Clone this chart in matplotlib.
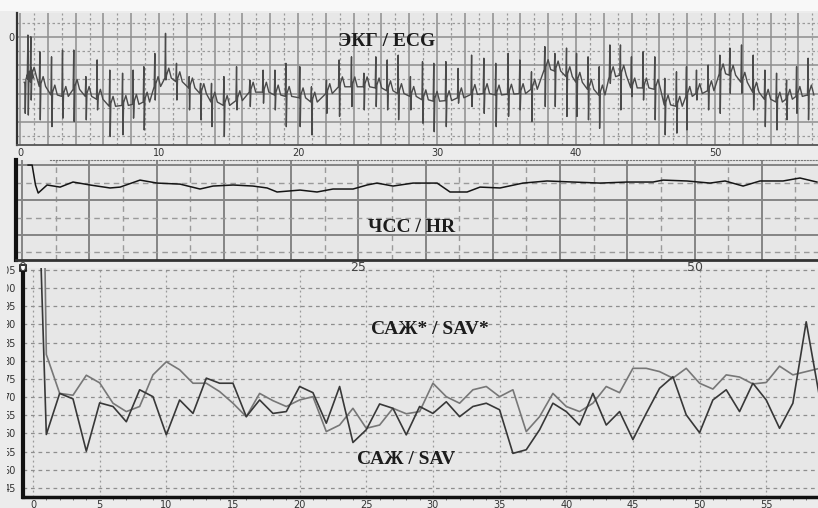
import numpy as np
import matplotlib
matplotlib.use('Agg')
import matplotlib.pyplot as plt
from matplotlib.ticker import MultipleLocator, FixedLocator, FuncFormatter

# --- ECG: beat times, local baseline, R top, S bottom (arbitrary units, 0 = top label)
ecg_t = [0.36, 0.58, 0.79, 1.44, 2.28, 3.07, 3.88, 4.75, 5.56, 6.47, 7.39, 8.15,
         8.92, 9.71, 10.48, 11.27, 12.18, 13.0, 13.79, 14.68, 15.59, 16.55, 17.5,
         18.35, 19.14, 20.14, 20.98, 22.06, 22.97, 23.86, 24.75, 25.61, 26.43,
         27.22, 28.1, 28.97, 29.78, 30.65, 31.53, 32.5, 33.38, 34.24, 35.13, 35.97,
         36.81, 37.77, 38.49, 39.33, 40.05, 40.88, 41.68, 42.45, 43.21, 44.0,
         44.84, 45.68, 46.4, 47.24, 47.96, 48.68, 49.52, 50.36, 51.08, 51.92,
         52.76, 53.6, 54.44, 55.16, 55.88, 56.71]
ecg_base = [-1.6, -1.45, -1.42, -1.75, -2.05, -2.1, -1.85, -2.1, -2.2, -2.45, -2.42,
            -2.38, -2.3, -1.75, -1.45, -1.58, -1.8, -2.0, -2.3, -2.42, -2.25, -1.95,
            -1.95, -2.05, -2.1, -2.15, -2.3, -2.0, -1.76, -1.76, -1.76, -1.8, -1.9,
            -2.0, -2.1, -2.22, -2.27, -2.25, -2.15, -2.03, -2.0, -2.05, -2.02, -2.0,
            -1.85, -1.15, -1.2, -1.4, -1.6, -1.85, -2.05, -1.4, -1.35, -1.8, -1.8,
            -1.85, -2.4, -2.45, -2.1, -2.0, -1.9, -1.3, -1.35, -1.6, -1.95, -2.2,
            -2.3, -2.2, -2.1, -2.05]
ecg_top = [-1.64, 0.07, 0.01, -0.52, -0.70, -0.46, -0.46, -1.40, -0.81, -1.17, -1.28,
           -1.17, -1.05, -0.58, 0.13, -0.93, -1.40, -1.64, -1.64, -1.40, -1.05, -1.52,
           -1.17, -1.17, -0.93, -1.05, -1.76, -1.52, -0.81, -0.70, -1.28, -0.70, -0.81,
           -0.64, -1.40, -0.87, -0.93, -0.87, -1.11, -0.64, -0.75, -0.93, -0.58, -0.81,
           -1.23, -0.34, -0.58, -0.39, -0.58, -0.70, -1.05, -0.28, -0.28, -0.70, -0.52,
           -0.70, -1.46, -1.23, -1.05, -1.17, -0.99, -0.64, -0.39, -0.28, -0.64, -1.17,
           -1.28, -1.52, -1.05, -0.75]
ecg_bot = [-2.70, -2.76, -2.23, -2.93, -3.17, -2.87, -2.99, -2.93, -2.58, -3.52, -3.46,
           -2.87, -3.29, -2.23, -1.52, -2.23, -2.58, -2.93, -3.17, -3.52, -2.58, -2.46,
           -2.34, -2.58, -3.17, -3.17, -3.46, -2.70, -2.81, -2.46, -2.58, -2.46, -2.58,
           -2.93, -2.58, -3.05, -3.35, -3.17, -2.34, -2.46, -2.70, -3.17, -2.81, -2.58,
           -2.99, -2.46, -2.46, -2.81, -2.81, -2.93, -3.23, -1.64, -2.58, -2.11, -2.23,
           -2.93, -3.46, -3.40, -3.29, -2.23, -2.58, -2.70, -1.99, -1.99, -2.58, -3.17,
           -3.29, -2.93, -2.70, -2.93]

# --- HR trend (bpm)
hr_t = [0.45, 0.75, 1.0, 1.2, 1.86, 2.83, 3.79, 5.06, 6.54, 7.29, 8.77, 10.04,
        11.75, 13.23, 14.2, 15.69, 17.17, 18.22, 18.96, 20.67, 21.93, 23.12, 24.61,
        25.65, 26.39, 27.58, 29.07, 30.86, 31.82, 33.09, 34.05, 35.54, 37.25, 39.03,
        40.97, 42.97, 44.98, 46.91, 47.66, 49.44, 51.15, 52.27, 53.61, 54.87, 56.58,
        57.84, 59.1]
hr_v = [90, 90, 78.6, 74.0, 78.6, 77.4, 80.3, 78.6, 76.9, 77.4, 81.4, 79.7,
        79.1, 76.3, 78.0, 78.6, 78.0, 76.9, 74.6, 75.7, 74.6, 76.3, 76.3,
        78.6, 79.7, 78.0, 79.7, 79.7, 74.6, 74.6, 77.4, 76.9, 79.7, 80.9,
        80.3, 79.7, 80.3, 80.3, 81.4, 80.9, 79.7, 80.9, 78.0, 80.9, 80.9,
        82.6, 80.3]

# --- SAV per minute (САЖ) and SAV* (САЖ*)
minutes = list(range(1, 60))
sav = [59.7, 71.0, 69.5, 55.1, 68.4, 67.4, 63.2, 72.0, 70.1, 59.6, 69.2, 65.5,
       75.2, 73.8, 73.8, 64.6, 69.2, 65.5, 66.0, 72.9, 71.2, 62.8, 72.9, 57.5,
       61.0, 68.1, 66.9, 59.6, 67.4, 65.5, 68.7, 64.6, 67.4, 68.3, 66.5, 54.5,
       55.5, 61.0, 68.3, 66.0, 62.3, 71.0, 62.3, 66.0, 58.3, 65.5, 72.4, 75.6,
       65.1, 60.2, 69.2, 72.0, 66.0, 73.8, 69.2, 61.4, 68.3, 90.7, 70.0]
sav_star = [81.7, 71.0, 70.5, 76.0, 73.9, 68.3, 66.0, 67.4, 76.1, 79.7, 77.5, 73.8,
            73.8, 71.5, 68.3, 64.6, 71.0, 69.0, 67.4, 69.2, 70.1, 60.5, 62.3, 66.9,
            61.4, 62.3, 66.9, 65.4, 66.0, 73.8, 70.1, 68.3, 72.0, 72.9, 70.1, 72.0,
            60.5, 64.6, 71.0, 67.4, 66.0, 68.3, 72.9, 71.2, 77.9, 77.9, 77.0, 75.2,
            77.9, 73.8, 72.2, 76.1, 75.5, 73.6, 74.0, 78.5, 76.1, 77.0, 77.9]
# both traces start off-scale before the first minute
sav_start = (0.4, 130)
sav_star_start = (0.8, 130)

W, H = 818, 508
FIG_BG = '#ececec'
BG = '#e7e7e7'
GRID = '#8e8e8e'
GRID_D = '#9a9a9a'


def frac(left, top, right, bottom):
    return [left / W, 1 - bottom / H, (right - left) / W, (bottom - top) / H]


def ecg_polyline(t, base, top, bot):
    xs, ys = [], []
    for ti, b, hi, lo in zip(t, base, top, bot):
        xs += [ti - 0.06, ti - 0.015, ti + 0.015, ti + 0.06, ti + 0.22, ti + 0.40]
        ys += [b, hi, lo, b + 0.1, b + 0.35, b]
    return xs, ys


fig = plt.figure(figsize=(W / 100, H / 100), dpi=100)
fig.patch.set_facecolor(FIG_BG)
fig.patches.append(plt.Rectangle((0, 1 - 11 / H), 1, 11 / H, transform=fig.transFigure,
                                 facecolor='#f8f8f8', edgecolor='none', zorder=0))

# ---------------- ECG panel
ax1 = fig.add_axes(frac(17, 13, 825, 145))
ax1.set_facecolor(BG)
xs, ys = ecg_polyline(ecg_t, ecg_base, ecg_top, ecg_bot)
ax1.plot(xs, ys, color='#4a4a4a', lw=1.0, zorder=3)
ax1.set_xlim(-0.22, 57.91)
ax1.set_ylim(-3.82, 0.85)
ax1.xaxis.set_major_locator(MultipleLocator(2))
ax1.xaxis.set_minor_locator(MultipleLocator(1))
ax1.xaxis.set_major_formatter(FuncFormatter(
    lambda v, _: f'{v:.0f}' if round(v) % 10 == 0 else ''))
ax1.yaxis.set_major_locator(FixedLocator([0, -1, -2, -3]))
ax1.yaxis.set_minor_locator(FixedLocator([0.5, -0.5, -1.5, -2.5, -3.5]))
ax1.yaxis.set_major_formatter(FuncFormatter(lambda v, _: '0' if v == 0 else ''))
ax1.grid(True, which='major', color=GRID, lw=1.1, ls='-')
ax1.grid(True, which='minor', color=GRID_D, lw=0.9, ls=(0, (2, 2)))
ax1.tick_params(which='both', length=0, labelsize=7, labelcolor='#333333', pad=2)
for s in ('top', 'right'):
    ax1.spines[s].set_visible(False)
ax1.spines['left'].set_color('#333333')
ax1.spines['left'].set_linewidth(1.6)
ax1.spines['bottom'].set_color('#555555')
ax1.spines['bottom'].set_linewidth(1.3)
ax1.set_axisbelow(True)

# ---------------- HR panel
ax2 = fig.add_axes(frac(16, 160, 825, 260))
ax2.set_zorder(3)
ax2.set_facecolor(BG)
ax2.plot(hr_t, hr_v, color='#151515', lw=1.1, zorder=3)
ax2.set_xlim(-0.45, 59.7)
ax2.set_ylim(35.7, 92.9)
ax2.xaxis.set_major_locator(MultipleLocator(5))
ax2.xaxis.set_minor_locator(MultipleLocator(2.5))
ax2.xaxis.set_major_formatter(FuncFormatter(
    lambda v, _: f'{v:.0f}' if round(v) % 25 == 0 else ''))
ax2.yaxis.set_major_locator(FixedLocator([50, 70, 90]))
ax2.yaxis.set_minor_locator(FixedLocator([40, 60, 80]))
ax2.yaxis.set_major_formatter(FuncFormatter(lambda v, _: ''))
ax2.grid(True, which='major', color='#858585', lw=1.4, ls='-')
ax2.grid(True, which='minor', color=GRID_D, lw=1.0, ls=(0, (4, 3)))
ax2.tick_params(which='both', length=0, labelsize=9, labelcolor='#444444', pad=1)
ax2.spines['right'].set_visible(False)
ax2.spines['top'].set_linestyle(':')
ax2.spines['top'].set_color('#777777')
ax2.spines['top'].set_bounds(2.1, 59.7)
ax2.spines['left'].set_color('#111111')
ax2.spines['left'].set_linewidth(3)
ax2.spines['bottom'].set_color('#333333')
ax2.spines['bottom'].set_linewidth(2)
ax2.set_axisbelow(True)

# ---------------- SAV panel
ax3 = fig.add_axes(frac(23, 268, 825, 497))
ax3.set_zorder(1)
ax3.set_facecolor(BG)
ax3.plot([sav_star_start[0]] + minutes, [sav_star_start[1]] + sav_star,
         color='#777777', lw=1.2, zorder=3)
ax3.plot([sav_start[0]] + minutes, [sav_start[1]] + sav,
         color='#383838', lw=1.2, zorder=4)
ax3.set_xlim(-0.75, 59.41)
ax3.set_ylim(42.5, 105.5)
ax3.xaxis.set_major_locator(MultipleLocator(5))
ax3.xaxis.set_minor_locator(MultipleLocator(1))
ax3.yaxis.set_major_locator(MultipleLocator(5))
ax3.xaxis.grid(True, which='major', color=GRID_D, lw=0.9, ls=(0, (1.5, 2.5)))
ax3.yaxis.grid(True, which='major', color=GRID, lw=0.9, ls=(0, (3, 3)))
ax3.tick_params(which='major', length=0, labelsize=7, labelcolor='#333333')
ax3.tick_params(axis='x', which='major', pad=2)
ax3.tick_params(axis='y', which='major', pad=5)
ax3.tick_params(axis='x', which='minor', length=2, color='#666666')
for s in ('top', 'right'):
    ax3.spines[s].set_visible(False)
ax3.spines['left'].set_color('#111111')
ax3.spines['left'].set_linewidth(3)
ax3.spines['bottom'].set_color('#111111')
ax3.spines['bottom'].set_linewidth(2.5)
ax3.set_axisbelow(True)
ax3.plot([0], [1], transform=ax3.transAxes, marker='s', ms=5, mfc='white',
         mec='#111111', mew=1.2, clip_on=False, zorder=6)

# the SAV scale is partly hidden behind the window edge on the left
fig.add_artist(plt.Rectangle((0, 0), 7 / W, 1 - 262 / H, transform=fig.transFigure,
                             facecolor=FIG_BG, edgecolor='none', zorder=10))

# ---------------- labels
title_kw = dict(ha='center', va='center', fontsize=14, fontweight='bold',
                family='Liberation Serif', color='#1c1c1c', zorder=12)
fig.text(387 / W, 1 - 42 / H, 'ЭКГ / ECG', **title_kw)
fig.text(412 / W, 1 - 228 / H, 'ЧСС / HR', **title_kw)
fig.text(430 / W, 1 - 330 / H, 'САЖ* / SAV*', **title_kw)
fig.text(406 / W, 1 - 460 / H, 'САЖ / SAV', **title_kw)

fig.savefig('out.png', dpi=100, facecolor=fig.get_facecolor())
